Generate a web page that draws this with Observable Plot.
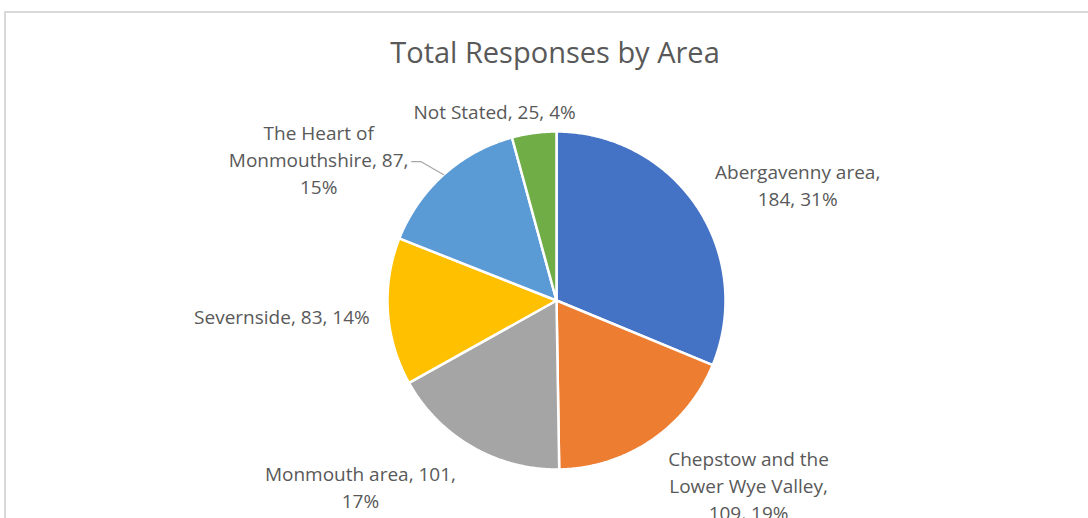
<!DOCTYPE html>
<html><head><meta charset="utf-8">
<script src="https://cdn.jsdelivr.net/npm/d3@7"></script>
<script src="https://cdn.jsdelivr.net/npm/@observablehq/plot@0.6"></script>
<style>
html,body{margin:0;padding:0;background:#fff;}
#wrap{position:relative;width:1088px;height:518px;overflow:hidden;font-family:"Open Sans",sans-serif;}
#frame{position:absolute;left:4px;top:11px;width:2000px;height:2000px;border:2px solid #d9d9d9;box-sizing:border-box;}
#title{position:absolute;left:0;top:33px;width:1110px;text-align:center;font-size:29px;line-height:38px;color:#595959;}
#chart{position:absolute;left:0;top:0;}
</style></head>
<body><div id="wrap"><div id="frame"></div><div id="title">Total Responses by Area</div><div id="chart"></div></div>
<script>
// ---- data ----
const categories = ["Abergavenny area", "Chepstow and the Lower Wye Valley", "Monmouth area", "Severnside", "The Heart of Monmouthshire", "Not Stated"];
const responses = [184, 109, 101, 83, 87, 25];

// ---- styles / layout ----
const colors = ["#4472C4", "#ED7D31", "#A5A5A5", "#FFC000", "#5B9BD5", "#70AD47"];
const W = 1088, H = 518, CX = 556, CY = 300, R = 169;
// label placement: angle nudge from slice mid-angle (deg), distance in radii
const labelNudge = [7.9, -12, 16.6, 0.7, -17.3, -10.4];
const labelDist = [1.586, 1.574, 1.598, 1.627, 1.639, 1.183];
const wrapChars = 19;
const leaderSlice = 4; // The Heart of Monmouthshire has a leader line
const fontSize = 19;

const total = d3.sum(responses);
const arcs = d3.pie().sort(null).startAngle(0).endAngle(2 * Math.PI)(responses);

// slice outlines in unit-circle coordinates (y downward)
const slicePts = [];
arcs.forEach((a, i) => {
  const name = categories[i];
  slicePts.push({name, x: 0, y: 0});
  const n = Math.max(2, Math.ceil((a.endAngle - a.startAngle) / (Math.PI / 360)));
  for (let k = 0; k <= n; k++) {
    const t = a.startAngle + (a.endAngle - a.startAngle) * k / n;
    slicePts.push({name, x: Math.sin(t), y: -Math.cos(t)});
  }
  slicePts.push({name, x: 0, y: 0});
});

function wrap(str, max) {
  const words = str.split(" ");
  const lines = [];
  let cur = "";
  for (const w of words) {
    if (cur && (cur + " " + w).length > max) { lines.push(cur); cur = w; }
    else cur = cur ? cur + " " + w : w;
  }
  if (cur) lines.push(cur);
  return lines.join("\n");
}

const labels = arcs.map((a, i) => {
  const mid = (a.startAngle + a.endAngle) / 2 + labelNudge[i] * Math.PI / 180;
  const pct = Math.round(responses[i] / total * 100) + "%";
  return {
    name: categories[i],
    x: labelDist[i] * Math.sin(mid),
    y: -labelDist[i] * Math.cos(mid),
    text: wrap(`${categories[i]}, ${responses[i]}, ${pct}`, wrapChars)
  };
});

// leader line for Heart of Monmouthshire
const la = arcs[leaderSlice];
const lmid = (la.startAngle + la.endAngle) / 2;
const lab = labels[leaderSlice];
const leader = [
  {x: Math.sin(lmid), y: -Math.cos(lmid)},
  {x: lab.x + 102 / R, y: lab.y + 3 / R},
  {x: lab.x + 93 / R, y: lab.y + 3 / R}
];

const chart = Plot.plot({
  width: W, height: H, margin: 0,
  x: {domain: [-CX / R, (W - CX) / R], range: [0, W], axis: null},
  y: {domain: [-CY / R, (H - CY) / R], range: [0, H], axis: null},
  color: {type: "ordinal", domain: categories, range: colors},
  style: {background: "transparent", overflow: "visible"},
  marks: [
    Plot.line(slicePts, {x: "x", y: "y", z: "name", fill: "name", stroke: "white", strokeWidth: 2.5, strokeLinejoin: "round"}),
    Plot.line(leader, {x: "x", y: "y", stroke: "#a6a6a6", strokeWidth: 1.2}),
    Plot.text(labels, {x: "x", y: "y", text: "text", fill: "#595959", fontSize, fontFamily: "Open Sans", lineHeight: 27 / fontSize, lineAnchor: "middle", textAnchor: "middle"})
  ]
});
document.getElementById("chart").appendChild(chart);
</script>
</body></html>
